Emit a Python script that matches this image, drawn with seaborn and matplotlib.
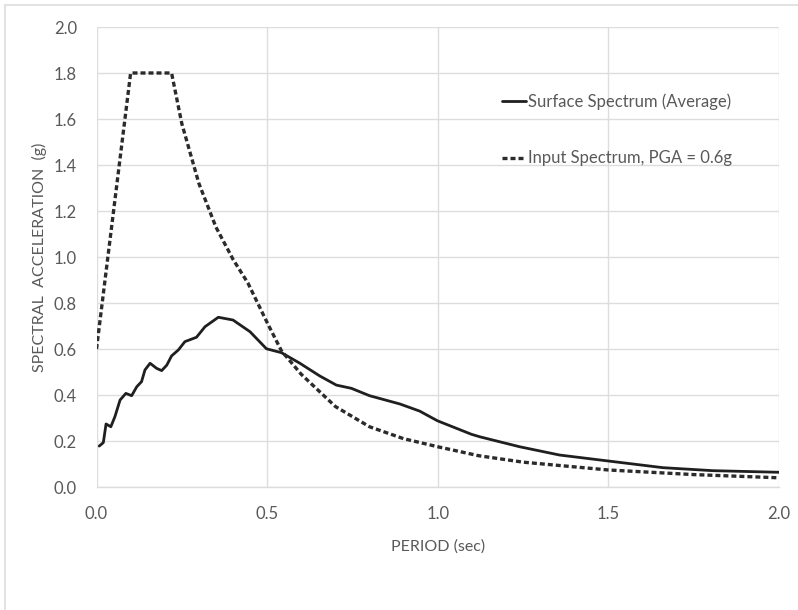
import numpy as np
import pandas as pd
import matplotlib
matplotlib.use("Agg")
import matplotlib.pyplot as plt
from matplotlib.lines import Line2D
import seaborn as sns

# ---- data ----
surface_period = [0.008, 0.020, 0.028, 0.042, 0.054, 0.069, 0.086, 0.103, 0.118, 0.132,
                  0.142, 0.157, 0.176, 0.191, 0.206, 0.220, 0.240, 0.259, 0.293, 0.318,
                  0.357, 0.400, 0.450, 0.498, 0.542, 0.596, 0.654, 0.703, 0.747, 0.800,
                  0.889, 0.947, 0.999, 1.099, 1.124, 1.240, 1.357, 1.500, 1.660, 1.806, 2.000]
surface_sa = [0.178, 0.193, 0.274, 0.262, 0.306, 0.378, 0.407, 0.397, 0.436, 0.458,
              0.509, 0.538, 0.516, 0.506, 0.530, 0.570, 0.596, 0.632, 0.651, 0.697,
              0.738, 0.726, 0.675, 0.601, 0.584, 0.538, 0.483, 0.443, 0.429, 0.397,
              0.361, 0.330, 0.288, 0.229, 0.218, 0.175, 0.139, 0.113, 0.084, 0.071, 0.064]

input_period = [0.0, 0.10, 0.22, 0.25, 0.30, 0.35, 0.40, 0.444, 0.50, 0.542, 0.60,
                0.70, 0.80, 0.90, 1.00, 1.12, 1.25, 1.50, 1.75, 2.00]
input_sa = [0.60, 1.80, 1.80, 1.58, 1.32, 1.13, 0.99, 0.886, 0.715, 0.592, 0.490,
            0.350, 0.262, 0.210, 0.175, 0.136, 0.108, 0.074, 0.054, 0.040]

series_labels = ["Surface Spectrum (Average)", "Input Spectrum, PGA = 0.6g"]
x_ticks = [0.0, 0.5, 1.0, 1.5, 2.0]
y_ticks = [0.0, 0.2, 0.4, 0.6, 0.8, 1.0, 1.2, 1.4, 1.6, 1.8, 2.0]
x_label = "PERIOD (sec)"
y_label = "SPECTRAL  ACCELERATION  (g)"

# ---- styling ----
sns.set_theme(style="white")
plt.rcParams['font.family'] = ['Lato', 'DejaVu Sans']

W, H = 798, 610
fig = plt.figure(figsize=(W / 100, H / 100), dpi=100)
ax = fig.add_axes([96.5 / W, 1 - 487 / H, (779 - 96.5) / W, (487 - 27) / H])

text_gray = "#595959"
grid_gray = "#DDDDDD"

df_s = pd.DataFrame({"T": surface_period, "SA": surface_sa})
df_i = pd.DataFrame({"T": input_period, "SA": input_sa})

sns.lineplot(data=df_s, x="T", y="SA", ax=ax, color="#1f1f1f", lw=2.0,
             sort=False, label=series_labels[0], zorder=3)
sns.lineplot(data=df_i, x="T", y="SA", ax=ax, color="#2b2b2b", lw=2.4,
             sort=False, label=series_labels[1], zorder=3)
ax.lines[1].set_linestyle((0, (1.5, 0.9)))

ax.set_xlim(0, 2.0)
ax.set_ylim(0, 2.0)
ax.set_xticks(x_ticks)
ax.set_yticks(y_ticks)
ax.set_xticklabels([f"{v:.1f}" for v in x_ticks])
ax.set_yticklabels([f"{v:.1f}" for v in y_ticks])
ax.tick_params(axis="both", length=0, colors=text_gray, labelsize=12)
ax.tick_params(axis="y", pad=14)
ax.tick_params(axis="x", pad=14)

ax.grid(True, color=grid_gray, lw=1.0)
ax.set_axisbelow(True)
for side in ["top", "right", "left"]:
    ax.spines[side].set_visible(False)
ax.spines["bottom"].set_color(grid_gray)
ax.spines["bottom"].set_linewidth(1.0)

ax.set_xlabel(x_label, color=text_gray, fontsize=11.5, labelpad=12)
ax.set_ylabel(y_label, color=text_gray, fontsize=11.5, labelpad=5)

leg = ax.legend(loc="upper left", bbox_to_anchor=(502 / W, 1 - 93 / H),
                bbox_transform=fig.transFigure, frameon=False, fontsize=12,
                handlelength=1.45, handletextpad=0.1, labelspacing=2.45,
                borderpad=0, borderaxespad=0)
for t in leg.get_texts():
    t.set_color(text_gray)
leg.get_lines()[1].set_linestyle((0, (1.5, 0.9)))

# outer chart border (top and left visible in reference)
fig.add_artist(Line2D([5 / W, 1], [1 - 5 / H, 1 - 5 / H], transform=fig.transFigure,
                      color=grid_gray, lw=1.2))
fig.add_artist(Line2D([5 / W, 5 / W], [0, 1 - 5 / H], transform=fig.transFigure,
                      color=grid_gray, lw=1.2))

fig.savefig("out.png", dpi=100, facecolor="white")
